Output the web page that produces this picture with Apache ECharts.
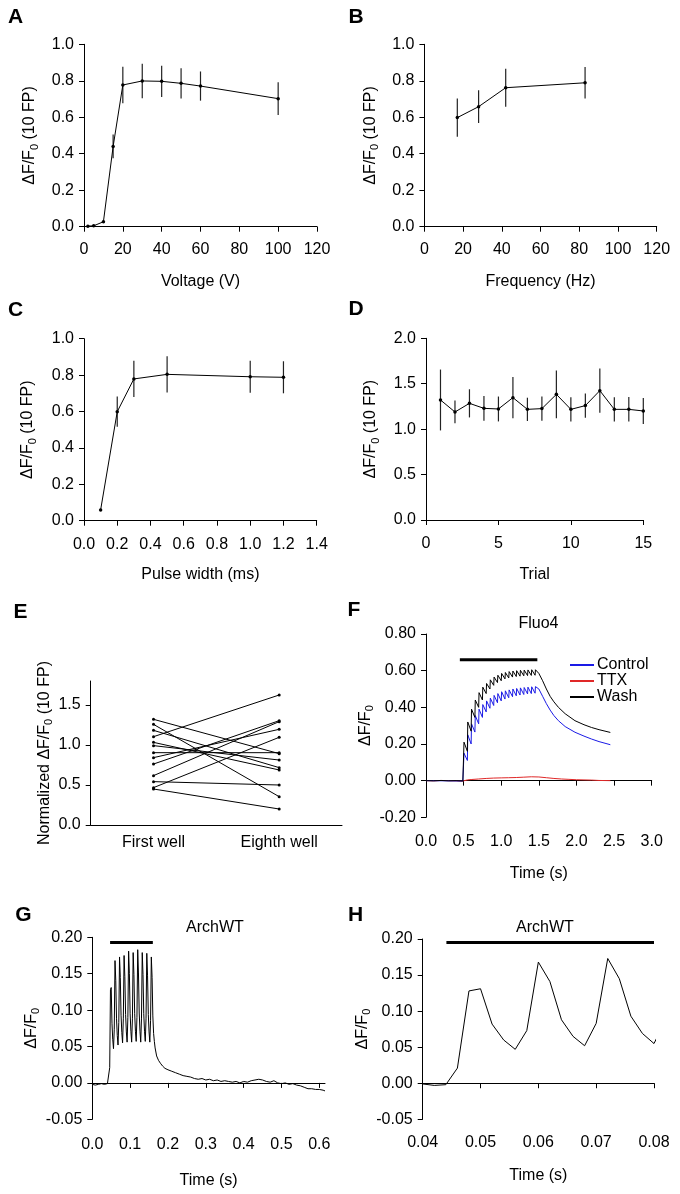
<!DOCTYPE html>
<html><head><meta charset="utf-8">
<script src="https://cdn.jsdelivr.net/npm/echarts@6/dist/echarts.min.js"></script>
<style>html,body{margin:0;padding:0;background:#fff}#c{width:680px;height:1194px}</style>
</head><body><div id="c"></div>
<script>
// Panel A
const voltageX = [2, 5, 10, 15, 20, 30, 40, 50, 60, 100];
const voltageY = [0.003, 0.005, 0.027, 0.44, 0.777, 0.799, 0.797, 0.786, 0.771, 0.702];
const voltageErr = [0, 0, 0, 0.065, 0.10, 0.095, 0.086, 0.083, 0.08, 0.09];
// Panel B
const freqX = [17, 28, 42, 83];
const freqY = [0.598, 0.658, 0.762, 0.789];
const freqErr = [0.105, 0.09, 0.104, 0.086];
// Panel C
const pulseX = [0.1, 0.2, 0.3, 0.5, 1.0, 1.2];
const pulseY = [0.059, 0.599, 0.779, 0.804, 0.791, 0.788];
const pulseErr = [0, 0.083, 0.10, 0.10, 0.088, 0.088];
// Panel D
const trialX = [1, 2, 3, 4, 5, 6, 7, 8, 9, 10, 11, 12, 13, 14, 15];
const trialY = [1.321, 1.189, 1.284, 1.229, 1.222, 1.347, 1.218, 1.226, 1.383, 1.218, 1.259, 1.424, 1.218, 1.218, 1.200];
const trialErr = [0.335, 0.125, 0.155, 0.137, 0.137, 0.226, 0.128, 0.134, 0.262, 0.134, 0.134, 0.244, 0.134, 0.135, 0.143];
// Panel E
const wellCategories = ['First well', 'Eighth well'];
const firstWell = [1.321, 1.258, 1.183, 1.104, 1.033, 0.992, 0.904, 0.842, 0.762, 0.617, 0.542, 0.467, 0.450];
const eighthWell = [0.892, 0.354, 0.717, 1.625, 0.688, 0.812, 0.904, 1.196, 1.304, 1.292, 0.500, 1.096, 0.200];
// Panel F
const controlF = [[0,0],[0.49,-0.002],[0.50,0.000],
 [0.505,0.15],[0.55,0.11],[0.555,0.25],[0.60,0.20],[0.605,0.31],[0.65,0.265],[0.655,0.355],[0.70,0.31],
 [0.705,0.39],[0.75,0.345],[0.755,0.415],[0.80,0.375],[0.805,0.435],[0.85,0.395],[0.855,0.45],[0.90,0.41],
 [0.905,0.465],[0.95,0.425],[0.955,0.475],[1.00,0.435],[1.005,0.485],[1.05,0.445],[1.055,0.49],[1.10,0.452],
 [1.105,0.495],[1.15,0.458],[1.155,0.50],[1.20,0.463],[1.205,0.503],[1.25,0.467],[1.255,0.506],[1.30,0.47],
 [1.305,0.508],[1.35,0.473],[1.355,0.51],[1.40,0.475],[1.405,0.512],[1.45,0.477],[1.455,0.513],[1.50,0.50],
 [1.55,0.46],[1.60,0.42],[1.65,0.385],[1.70,0.355],[1.76,0.327],[1.85,0.295],
 [1.98,0.264],[2.10,0.243],[2.20,0.227],[2.30,0.213],[2.45,0.196]];
const ttxF = [[0,0],[0.1,-0.001],[0.2,0.001],[0.3,0],[0.4,-0.001],[0.49,-0.002],[0.5,0],[0.55,0.004],[0.6,0.006],
 [0.7,0.009],[0.8,0.012],[0.9,0.014],[1.0,0.015],[1.1,0.016],[1.2,0.017],[1.3,0.019],[1.4,0.021],[1.5,0.02],
 [1.6,0.016],[1.7,0.012],[1.8,0.009],[1.9,0.007],[2.0,0.005],[2.1,0.004],[2.2,0.003],[2.3,0.001],[2.45,0]];
const washF = [[0,0],[0.1,-0.001],[0.2,0.001],[0.3,-0.001],[0.4,0],[0.49,-0.002],[0.50,0],
 [0.505,0.21],[0.55,0.16],[0.555,0.32],[0.60,0.27],[0.605,0.39],[0.65,0.345],[0.655,0.44],[0.70,0.40],
 [0.705,0.48],[0.75,0.44],[0.755,0.51],[0.80,0.475],[0.805,0.53],[0.85,0.50],[0.855,0.55],[0.90,0.52],
 [0.905,0.565],[0.95,0.535],[0.955,0.575],[1.00,0.545],[1.005,0.585],[1.05,0.555],[1.055,0.59],[1.10,0.56],
 [1.105,0.595],[1.15,0.565],[1.155,0.598],[1.20,0.568],[1.205,0.60],[1.25,0.57],[1.255,0.602],[1.30,0.572],
 [1.305,0.603],[1.35,0.573],[1.355,0.604],[1.40,0.574],[1.405,0.605],[1.45,0.575],[1.455,0.605],[1.50,0.585],
 [1.55,0.545],[1.60,0.50],[1.65,0.46],[1.70,0.43],[1.76,0.40],[1.85,0.365],
 [1.98,0.327],[2.10,0.305],[2.20,0.29],[2.30,0.278],[2.45,0.263]];
const stimF = [[0.45, 0.66], [1.48, 0.66]];
// Panels G and H (same recording, H is a zoom)
const archTrace = [[0.000,-0.002],[0.008,-0.003],[0.016,-0.002],[0.024,-0.001],[0.032,-0.002],[0.040,-0.001],
 [0.042,-0.003],[0.044,-0.002],[0.046,0.021],[0.048,0.128],[0.050,0.131],[0.052,0.082],[0.054,0.060],[0.056,0.047],
 [0.058,0.073],[0.060,0.168],[0.062,0.141],[0.064,0.088],[0.066,0.065],[0.068,0.052],[0.070,0.083],[0.072,0.173],
 [0.074,0.145],[0.076,0.093],[0.078,0.069],[0.080,0.055],[0.082,0.088],[0.084,0.175],[0.086,0.146],[0.088,0.094],
 [0.090,0.070],[0.092,0.056],[0.094,0.090],[0.096,0.181],[0.098,0.150],[0.100,0.095],[0.102,0.071],[0.104,0.056],
 [0.106,0.088],[0.108,0.179],[0.110,0.149],[0.112,0.095],[0.114,0.071],[0.116,0.057],[0.118,0.090],[0.120,0.183],
 [0.122,0.151],[0.124,0.096],[0.126,0.071],[0.128,0.056],[0.130,0.089],[0.132,0.179],[0.134,0.149],[0.136,0.095],
 [0.138,0.071],[0.140,0.057],[0.142,0.088],[0.144,0.178],[0.146,0.148],[0.148,0.094],[0.150,0.070],[0.152,0.056],
 [0.154,0.086],[0.156,0.173],[0.158,0.145],[0.160,0.092],[0.162,0.068],[0.164,0.057],[0.166,0.048],[0.170,0.037],
 [0.175,0.031],[0.180,0.027],[0.186,0.023],[0.192,0.020],[0.200,0.018],[0.210,0.016],[0.220,0.014],[0.230,0.012],
 [0.240,0.010],[0.250,0.009],[0.260,0.008],[0.270,0.006],[0.275,0.007],[0.280,0.005],[0.290,0.006],[0.300,0.004],
 [0.310,0.005],[0.320,0.003],[0.330,0.004],[0.340,0.002],[0.350,0.003],[0.360,0.002],[0.370,0.001],[0.380,0.002],
 [0.390,0.000],[0.400,0.002],[0.410,0.001],[0.420,0.003],[0.430,0.004],[0.440,0.005],[0.450,0.004],[0.460,0.002],
 [0.470,0.001],[0.480,0.003],[0.490,0.000],[0.500,-0.001],[0.510,0.000],[0.520,-0.002],[0.530,-0.001],[0.540,-0.003],
 [0.550,-0.004],[0.560,-0.006],[0.570,-0.008],[0.580,-0.008],[0.590,-0.009],[0.600,-0.009],[0.610,-0.010],[0.615,-0.011]];
const stimG = [[0.047, 0.193], [0.16, 0.193]];
const stimH = [[0.0441, 0.195], [0.08, 0.195]];

const FF = '"Liberation Sans", Arial, sans-serif';
const FS = 16;
const chart = echarts.init(document.getElementById('c'), null, {renderer: 'canvas'});

const grids = [
  {left: 84, top: 44.3, width: 233, height: 182.4},      // A
  {left: 424.4, top: 44.3, width: 232.3, height: 182.4}, // B
  {left: 84, top: 338.7, width: 232.7, height: 182},     // C
  {left: 426, top: 338.3, width: 217.3, height: 181.7},  // D
  {left: 90.7, top: 681, width: 251.3, height: 144},     // E
  {left: 426, top: 634, width: 225.7, height: 183.3},    // F
  {left: 92.3, top: 937.3, width: 232.7, height: 182},   // G
  {left: 422.7, top: 939, width: 231.3, height: 180.3}   // H
];

const dF = '{m|ΔF/F}{s|0}';
const richName = {
  m: {fontSize: FS, fontFamily: FF, color: '#000', lineHeight: 20},
  s: {fontSize: 11, fontFamily: FF, color: '#000', lineHeight: 10, verticalAlign: 'bottom'}
};

function xAx(gi, min, max, dec, name, gap, margin, extra) {
  return Object.assign({
    type: 'value', gridIndex: gi, min: min, max: max,
    name: name, nameLocation: 'middle', nameGap: gap,
    nameTextStyle: {fontSize: FS, fontFamily: FF, color: '#000'},
    axisLine: {lineStyle: {color: '#000', width: 1}},
    axisTick: {length: 5, lineStyle: {color: '#000', width: 1}},
    splitLine: {show: false},
    axisLabel: {color: '#000', fontSize: FS, fontFamily: FF, margin: margin,
      formatter: v => v.toFixed(dec)}
  }, extra || {});
}
function yAx(gi, min, max, dec, name, gap, extra) {
  return Object.assign({
    type: 'value', gridIndex: gi, min: min, max: max,
    name: name, nameLocation: 'middle', nameGap: gap,
    nameTextStyle: {rich: richName},
    axisLine: {show: true, lineStyle: {color: '#000', width: 1}},
    axisTick: {show: true, length: 5, lineStyle: {color: '#000', width: 1}},
    splitLine: {show: false},
    axisLabel: {color: '#000', fontSize: FS, fontFamily: FF, margin: 10,
      formatter: v => v.toFixed(dec)}
  }, extra || {});
}

const xAxes = [
  xAx(0, 0, 120, 0, 'Voltage (V)', 47, 15, {interval: 20}),
  xAx(1, 0, 120, 0, 'Frequency (Hz)', 47, 15, {interval: 20}),
  xAx(2, 0, 1.4, 1, 'Pulse width (ms)', 46, 16, {interval: 0.2}),
  xAx(3, 0, 15, 0, 'Trial', 47, 16, {interval: 5}),
  {type: 'category', gridIndex: 4, data: wellCategories, boundaryGap: true,
   axisLine: {lineStyle: {color: '#000', width: 1}},
   axisTick: {alignWithLabel: true, length: 5, lineStyle: {color: '#000'}},
   axisLabel: {color: '#000', fontSize: FS, fontFamily: FF, margin: 10}},
  xAx(5, 0, 3.0, 1, 'Time (s)', 48, 16, {interval: 0.5}),
  xAx(6, 0, 0.615, 1, 'Time (s)', 53, 17, {
    axisTick: {length: 5, lineStyle: {color: '#000'}, customValues: [0, 0.1, 0.2, 0.3, 0.4, 0.5, 0.6]},
    axisLabel: {color: '#000', fontSize: FS, fontFamily: FF, margin: 17, formatter: v => v.toFixed(1),
      customValues: [0, 0.1, 0.2, 0.3, 0.4, 0.5, 0.6]}}),
  xAx(7, 0.04, 0.08, 2, 'Time (s)', 48, 15, {interval: 0.01})
];
const yAxes = [
  yAx(0, 0, 1.0, 1, dF + '{m| (10 FP)}', 44, {interval: 0.2}),
  yAx(1, 0, 1.0, 1, dF + '{m| (10 FP)}', 44, {interval: 0.2}),
  yAx(2, 0, 1.0, 1, dF + '{m| (10 FP)}', 46, {interval: 0.2}),
  yAx(3, 0, 2.0, 1, dF + '{m| (10 FP)}', 45, {interval: 0.5}),
  yAx(4, 0, 1.8, 1, '{m|Normalized ΔF/F}{s|0}{m| (10 FP)}', 35, {
    axisTick: {show: true, length: 5, lineStyle: {color: '#000'}, customValues: [0, 0.5, 1.0, 1.5]},
    axisLabel: {color: '#000', fontSize: FS, fontFamily: FF, margin: 10, formatter: v => v.toFixed(1),
      customValues: [0, 0.5, 1.0, 1.5]}}),
  yAx(5, -0.2, 0.8, 2, dF, 50, {interval: 0.2}),
  yAx(6, -0.05, 0.2, 2, dF, 42, {interval: 0.05}),
  yAx(7, -0.05, 0.2, 2, dF, 44, {interval: 0.05})
];

function pts(xs, ys) { return xs.map((x, i) => [x, ys[i]]); }
function errData(xs, ys, es) { return xs.map((x, i) => [x, ys[i], es[i]]).filter(d => d[2] > 0); }

function meanSeries(gi, xs, ys) {
  return {type: 'line', xAxisIndex: gi, yAxisIndex: gi, data: pts(xs, ys),
    symbol: 'circle', symbolSize: 3.5, itemStyle: {color: '#000'},
    lineStyle: {color: '#000', width: 1}, z: 3, silent: true};
}
function errSeries(gi, xs, ys, es) {
  return {type: 'custom', xAxisIndex: gi, yAxisIndex: gi, data: errData(xs, ys, es),
    encode: {x: 0, y: 1}, z: 2, silent: true,
    renderItem: function (params, api) {
      const x = api.value(0), y = api.value(1), e = api.value(2);
      const p1 = api.coord([x, y - e]), p2 = api.coord([x, y + e]);
      return {type: 'line', shape: {x1: p1[0], y1: p1[1], x2: p2[0], y2: p2[1]},
        style: {stroke: '#222', lineWidth: 1.2}};
    }};
}
function traceSeries(gi, data, color, name, width) {
  return {type: 'line', name: name, xAxisIndex: gi, yAxisIndex: gi, data: data,
    symbol: 'none', lineStyle: {color: color, width: width || 1}, itemStyle: {color: color},
    clip: true, silent: true};
}

const series = [
  errSeries(0, voltageX, voltageY, voltageErr), meanSeries(0, voltageX, voltageY),
  errSeries(1, freqX, freqY, freqErr), meanSeries(1, freqX, freqY),
  errSeries(2, pulseX, pulseY, pulseErr), meanSeries(2, pulseX, pulseY),
  errSeries(3, trialX, trialY, trialErr), meanSeries(3, trialX, trialY)
];
firstWell.forEach((v, i) => {
  series.push({type: 'line', xAxisIndex: 4, yAxisIndex: 4, data: [v, eighthWell[i]],
    symbol: 'circle', symbolSize: 3, itemStyle: {color: '#000'},
    lineStyle: {color: '#000', width: 1}, silent: true});
});
series.push(traceSeries(5, ttxF, '#e02828', 'TTX'));
series.push(traceSeries(5, controlF, '#1a1ae6', 'Control'));
series.push(traceSeries(5, washF, '#000', 'Wash'));
series.push(traceSeries(5, stimF, '#000', undefined, 3));
series.push(traceSeries(6, archTrace, '#000'));
series.push(traceSeries(6, stimG, '#000', undefined, 3));
series.push(traceSeries(7, archTrace, '#000'));
series.push(traceSeries(7, stimH, '#000', undefined, 3));

function txt(x, y, t, font) {
  return {type: 'text', x: x, y: y, silent: true,
    style: {text: t, font: font, fill: '#000', align: 'center', verticalAlign: 'middle',
      textAlign: 'center', textVerticalAlign: 'middle'}};
}
const bold = 'bold 21px ' + FF;
const norm = FS + 'px ' + FF;

chart.setOption({
  animation: false,
  backgroundColor: '#fff',
  grid: grids,
  xAxis: xAxes,
  yAxis: yAxes,
  legend: {
    data: ['Control', 'TTX', 'Wash'], orient: 'vertical', left: 570, top: 657, padding: 0,
    itemGap: 0, itemWidth: 24, itemHeight: 2, icon: 'rect', selectedMode: false,
    textStyle: {fontSize: FS, fontFamily: FF, color: '#000', lineHeight: 16, padding: [0, 0, 0, -2]}
  },
  graphic: [
    txt(15.5, 17, 'A', bold), txt(356, 17, 'B', bold),
    txt(15.5, 310, 'C', bold), txt(356, 309, 'D', bold),
    txt(20.5, 612.5, 'E', bold), txt(354, 610.5, 'F', bold),
    txt(23.5, 915.5, 'G', bold), txt(355.5, 915.5, 'H', bold),
    txt(538.5, 624, 'Fluo4', norm), txt(215, 928, 'ArchWT', norm), txt(545, 927.5, 'ArchWT', norm)
  ],
  series: series
});
</script></body></html>
